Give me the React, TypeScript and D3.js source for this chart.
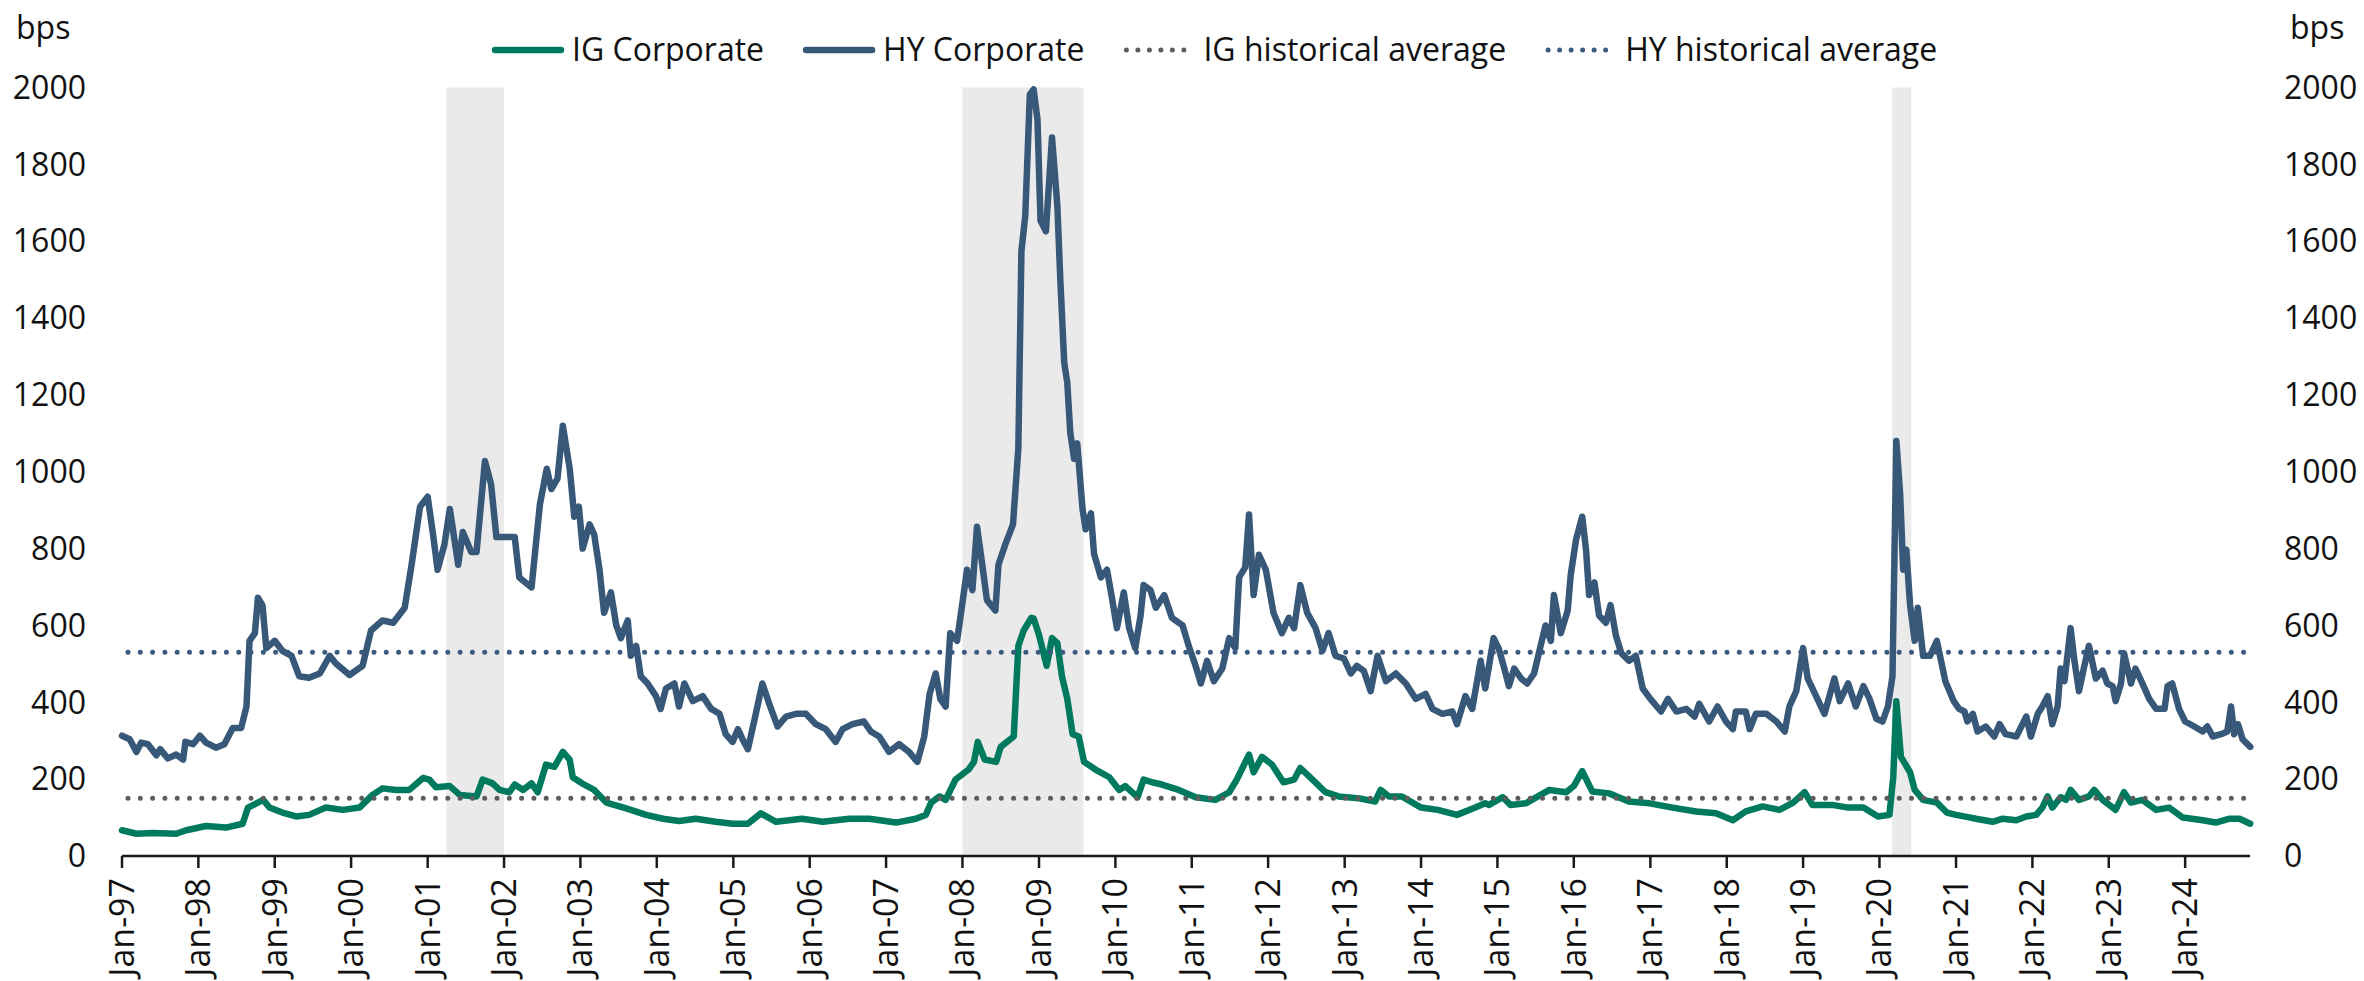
import * as d3 from "d3";
import { useEffect, useRef } from "react";

const WIDTH = 2364;
const HEIGHT = 981;

// [decimal year, spread in bps]
const igCorporate: [number, number][] = [
  [1997.0, 67], [1997.19, 58], [1997.4, 60], [1997.71, 58], [1997.84, 67],
  [1998.1, 78], [1998.36, 74], [1998.58, 84], [1998.65, 126], [1998.85, 146],
  [1998.93, 126], [1999.1, 113], [1999.28, 103], [1999.45, 107], [1999.67, 126],
  [1999.89, 120], [2000.11, 126], [2000.28, 159], [2000.41, 176], [2000.59, 172],
  [2000.76, 172], [2000.94, 203], [2001.02, 199], [2001.11, 179], [2001.29, 182],
  [2001.42, 159], [2001.64, 155], [2001.72, 199], [2001.85, 189], [2001.94, 172],
  [2002.07, 166], [2002.14, 186], [2002.25, 172], [2002.36, 189], [2002.44, 166],
  [2002.55, 238], [2002.66, 232], [2002.77, 271], [2002.86, 251], [2002.9, 205],
  [2003.03, 188], [2003.18, 172], [2003.34, 139], [2003.6, 124], [2003.86, 107],
  [2004.08, 97], [2004.29, 91], [2004.51, 97], [2004.77, 89], [2004.99, 84],
  [2005.19, 84], [2005.36, 111], [2005.56, 89], [2005.9, 97], [2006.17, 89],
  [2006.52, 97], [2006.78, 97], [2007.13, 87], [2007.39, 97], [2007.52, 107],
  [2007.59, 139], [2007.7, 155], [2007.78, 146], [2007.91, 199], [2008.08, 225],
  [2008.15, 245], [2008.2, 297], [2008.29, 251], [2008.44, 245], [2008.5, 284],
  [2008.67, 311], [2008.73, 547], [2008.8, 587], [2008.9, 620], [2008.93, 618],
  [2009.0, 575], [2009.1, 495], [2009.17, 567], [2009.24, 554], [2009.3, 468],
  [2009.37, 409], [2009.44, 317], [2009.52, 311], [2009.59, 245], [2009.74, 225],
  [2009.92, 205], [2010.05, 172], [2010.13, 182], [2010.29, 153], [2010.37, 199],
  [2010.48, 192], [2010.61, 186], [2010.83, 172], [2011.05, 153], [2011.31, 146],
  [2011.49, 166], [2011.59, 199], [2011.75, 264], [2011.81, 218], [2011.92, 258],
  [2012.05, 238], [2012.2, 192], [2012.34, 199], [2012.42, 229], [2012.58, 199],
  [2012.75, 166], [2012.92, 155], [2013.19, 150], [2013.4, 142], [2013.47, 172],
  [2013.58, 155], [2013.75, 155], [2014.0, 126], [2014.22, 120], [2014.47, 107],
  [2014.71, 126], [2014.84, 137], [2014.89, 133], [2015.07, 153], [2015.17, 133],
  [2015.37, 137], [2015.68, 172], [2015.9, 166], [2016.0, 182], [2016.11, 221],
  [2016.24, 168], [2016.46, 163], [2016.72, 142], [2016.99, 137], [2017.29, 126],
  [2017.6, 116], [2017.86, 111], [2018.08, 93], [2018.25, 116], [2018.47, 129],
  [2018.69, 120], [2018.87, 139], [2019.02, 166], [2019.12, 133], [2019.38, 133],
  [2019.59, 126], [2019.79, 126], [2019.98, 103], [2020.13, 107], [2020.18, 205],
  [2020.22, 403], [2020.28, 258], [2020.4, 218], [2020.46, 172], [2020.57, 146],
  [2020.75, 139], [2020.88, 113], [2021.0, 107], [2021.19, 100], [2021.26, 97],
  [2021.48, 89], [2021.61, 97], [2021.79, 93], [2021.92, 103], [2022.05, 107],
  [2022.13, 126], [2022.2, 155], [2022.26, 126], [2022.37, 153], [2022.44, 146],
  [2022.5, 172], [2022.61, 146], [2022.74, 155], [2022.81, 172], [2022.92, 146],
  [2023.09, 120], [2023.2, 166], [2023.29, 139], [2023.44, 146], [2023.62, 120],
  [2023.79, 126], [2023.97, 100], [2024.23, 93], [2024.4, 87], [2024.58, 97],
  [2024.71, 97], [2024.85, 84],
];

const hyCorporate: [number, number][] = [
  [1997.0, 313], [1997.1, 304], [1997.19, 271], [1997.25, 295], [1997.34, 291],
  [1997.45, 262], [1997.5, 278], [1997.6, 254], [1997.71, 264], [1997.8, 251],
  [1997.83, 297], [1997.93, 291], [1998.02, 313], [1998.1, 295], [1998.23, 282],
  [1998.34, 291], [1998.45, 333], [1998.56, 333], [1998.63, 389], [1998.67, 560],
  [1998.74, 580], [1998.78, 672], [1998.84, 652], [1998.89, 541], [1999.0, 560],
  [1999.1, 534], [1999.22, 521], [1999.32, 468], [1999.45, 464], [1999.59, 475],
  [1999.72, 521], [1999.8, 501], [1999.98, 471], [2000.15, 495], [2000.26, 587],
  [2000.41, 613], [2000.55, 607], [2000.7, 646], [2000.79, 758], [2000.9, 909],
  [2001.0, 935], [2001.07, 837], [2001.13, 745], [2001.22, 811], [2001.29, 903],
  [2001.4, 758], [2001.46, 843], [2001.57, 791], [2001.64, 791], [2001.75, 1028],
  [2001.83, 968], [2001.9, 830], [2002.03, 830], [2002.14, 830], [2002.2, 725],
  [2002.36, 699], [2002.47, 916], [2002.56, 1008], [2002.62, 955], [2002.7, 982],
  [2002.77, 1120], [2002.86, 1008], [2002.92, 883], [2002.98, 909], [2003.03, 800],
  [2003.12, 863], [2003.18, 837], [2003.25, 745], [2003.31, 633], [2003.4, 686],
  [2003.47, 600], [2003.53, 567], [2003.62, 613], [2003.66, 521], [2003.73, 547],
  [2003.79, 468], [2003.88, 449], [2003.99, 416], [2004.05, 383], [2004.12, 436],
  [2004.23, 449], [2004.29, 389], [2004.36, 449], [2004.47, 403], [2004.6, 416],
  [2004.71, 383], [2004.82, 370], [2004.9, 317], [2004.99, 297], [2005.06, 330],
  [2005.12, 304], [2005.19, 278], [2005.28, 357], [2005.38, 449], [2005.47, 396],
  [2005.58, 337], [2005.69, 363], [2005.82, 370], [2005.95, 370], [2006.08, 343],
  [2006.21, 330], [2006.34, 297], [2006.43, 330], [2006.56, 343], [2006.71, 350],
  [2006.8, 324], [2006.91, 311], [2007.04, 271], [2007.17, 291], [2007.3, 271],
  [2007.41, 245], [2007.5, 311], [2007.57, 422], [2007.65, 475], [2007.71, 409],
  [2007.78, 389], [2007.84, 580], [2007.93, 560], [2008.0, 659], [2008.06, 745],
  [2008.13, 692], [2008.19, 857], [2008.25, 771], [2008.32, 666], [2008.43, 639],
  [2008.47, 758], [2008.56, 811], [2008.66, 863], [2008.73, 1061], [2008.77, 1574],
  [2008.82, 1666], [2008.88, 1982], [2008.93, 1995], [2008.98, 1916], [2009.02, 1653],
  [2009.09, 1626], [2009.17, 1870], [2009.24, 1692], [2009.28, 1495], [2009.33, 1284],
  [2009.37, 1232], [2009.41, 1100], [2009.46, 1034], [2009.5, 1074], [2009.57, 903],
  [2009.61, 850], [2009.68, 892], [2009.72, 787], [2009.81, 725], [2009.89, 745],
  [2009.96, 666], [2010.02, 593], [2010.11, 686], [2010.18, 593], [2010.26, 541],
  [2010.33, 626], [2010.37, 705], [2010.46, 692], [2010.53, 646], [2010.64, 679],
  [2010.74, 620], [2010.88, 600], [2010.96, 547], [2011.05, 495], [2011.12, 449],
  [2011.2, 508], [2011.29, 455], [2011.4, 488], [2011.49, 567], [2011.57, 541],
  [2011.62, 725], [2011.7, 751], [2011.75, 889], [2011.81, 679], [2011.88, 784],
  [2011.97, 745], [2012.07, 633], [2012.18, 580], [2012.27, 620], [2012.34, 593],
  [2012.42, 705], [2012.51, 633], [2012.62, 593], [2012.71, 534], [2012.79, 580],
  [2012.88, 521], [2012.99, 514], [2013.08, 475], [2013.16, 495], [2013.25, 482],
  [2013.34, 429], [2013.43, 521], [2013.54, 455], [2013.67, 475], [2013.8, 449],
  [2013.93, 409], [2014.06, 422], [2014.15, 383], [2014.28, 370], [2014.41, 376],
  [2014.47, 343], [2014.58, 416], [2014.67, 383], [2014.78, 508], [2014.84, 436],
  [2014.95, 567], [2015.02, 538], [2015.09, 488], [2015.15, 442], [2015.22, 488],
  [2015.31, 462], [2015.39, 449], [2015.48, 475], [2015.55, 534], [2015.63, 600],
  [2015.7, 560], [2015.74, 679], [2015.83, 580], [2015.92, 639], [2015.96, 732],
  [2016.03, 824], [2016.11, 883], [2016.16, 797], [2016.2, 679], [2016.27, 712],
  [2016.33, 626], [2016.42, 607], [2016.48, 653], [2016.55, 574], [2016.62, 528],
  [2016.72, 508], [2016.81, 521], [2016.9, 436], [2017.0, 409], [2017.14, 376],
  [2017.23, 409], [2017.34, 376], [2017.47, 383], [2017.58, 363], [2017.64, 396],
  [2017.77, 350], [2017.88, 389], [2017.99, 350], [2018.08, 330], [2018.12, 376],
  [2018.25, 376], [2018.3, 330], [2018.38, 370], [2018.52, 370], [2018.65, 350],
  [2018.76, 324], [2018.82, 389], [2018.91, 429], [2019.0, 541], [2019.06, 462],
  [2019.17, 416], [2019.28, 370], [2019.41, 462], [2019.48, 403], [2019.59, 449],
  [2019.69, 389], [2019.79, 442], [2019.87, 409], [2019.96, 357], [2020.04, 350],
  [2020.11, 389], [2020.17, 468], [2020.22, 1080], [2020.27, 942], [2020.31, 745],
  [2020.35, 797], [2020.4, 653], [2020.46, 560], [2020.5, 646], [2020.57, 521],
  [2020.66, 521], [2020.75, 560], [2020.86, 455], [2020.97, 403], [2021.04, 383],
  [2021.11, 376], [2021.15, 350], [2021.22, 370], [2021.28, 324], [2021.39, 337],
  [2021.5, 311], [2021.57, 343], [2021.65, 317], [2021.79, 311], [2021.92, 363],
  [2021.98, 311], [2022.07, 370], [2022.13, 389], [2022.2, 416], [2022.26, 343],
  [2022.33, 389], [2022.37, 488], [2022.42, 455], [2022.5, 593], [2022.55, 508],
  [2022.61, 429], [2022.68, 495], [2022.74, 547], [2022.83, 462], [2022.92, 482],
  [2022.98, 449], [2023.05, 442], [2023.09, 403], [2023.16, 449], [2023.2, 528],
  [2023.29, 449], [2023.35, 488], [2023.44, 449], [2023.53, 409], [2023.62, 383],
  [2023.73, 383], [2023.77, 442], [2023.83, 449], [2023.92, 383], [2024.0, 350],
  [2024.12, 337], [2024.23, 324], [2024.29, 337], [2024.36, 311], [2024.47, 317],
  [2024.55, 324], [2024.6, 389], [2024.64, 317], [2024.69, 343], [2024.75, 304],
  [2024.85, 284],
];

const igHistoricalAverage = 150;
const hyHistoricalAverage = 530;

// shaded recession months [start, end)
const recessions: [string, string][] = [
  ["2001-04-01", "2002-01-01"],
  ["2008-01-01", "2009-08-01"],
  ["2020-03-01", "2020-06-01"],
];

const yTicks = [0, 200, 400, 600, 800, 1000, 1200, 1400, 1600, 1800, 2000];
const tickYears = d3.range(1997, 2025);
const legendLabels = ["IG Corporate", "HY Corporate", "IG historical average", "HY historical average"];

const IG_COLOR = "#007a5e";
const HY_COLOR = "#385879";
const IG_AVG_COLOR = "#5c5c5c";
const HY_AVG_COLOR = "#3b5a80";
const FONT = "'Segoe UI', 'Open Sans', 'Noto Sans', sans-serif";
const FONT_SIZE = 32;

const toDate = (t: number) => {
  const year = Math.floor(t);
  const start = Date.UTC(year, 0, 1);
  const end = Date.UTC(year + 1, 0, 1);
  return new Date(start + (t - year) * (end - start));
};

const App = () => {
  const svgRef = useRef<SVGSVGElement>(null);

  useEffect(() => {
    document.body.style.margin = "0";
    const svg = d3.select(svgRef.current);
    svg.selectAll("*").remove();

    const x = d3
      .scaleUtc()
      .domain([new Date(Date.UTC(1997, 0, 1)), new Date(Date.UTC(2024, 10, 6))])
      .range([122, 2250]);
    const y = d3.scaleLinear().domain([0, 2000]).range([856, 87.5]);

    // recession shading
    svg
      .append("g")
      .selectAll("rect")
      .data(recessions)
      .join("rect")
      .attr("x", (d) => x(new Date(d[0])))
      .attr("width", (d) => x(new Date(d[1])) - x(new Date(d[0])))
      .attr("y", y(2000))
      .attr("height", y(0) - y(2000))
      .attr("fill", "#eaeaea");

    const line = d3
      .line<[number, number]>()
      .x((d) => x(toDate(d[0])))
      .y((d) => y(d[1]));

    const series = [
      { data: igCorporate, color: IG_COLOR },
      { data: hyCorporate, color: HY_COLOR },
    ];
    svg
      .append("g")
      .selectAll("path")
      .data(series)
      .join("path")
      .attr("d", (d) => line(d.data))
      .attr("fill", "none")
      .attr("stroke", (d) => d.color)
      .attr("stroke-width", 6.5)
      .attr("stroke-linejoin", "round")
      .attr("stroke-linecap", "round");

    // historical averages
    const averages = [
      { value: igHistoricalAverage, color: IG_AVG_COLOR },
      { value: hyHistoricalAverage, color: HY_AVG_COLOR },
    ];
    svg
      .append("g")
      .selectAll("line")
      .data(averages)
      .join("line")
      .attr("x1", x.range()[0] + 6)
      .attr("x2", x.range()[1])
      .attr("y1", (d) => y(d.value))
      .attr("y2", (d) => y(d.value))
      .attr("stroke", (d) => d.color)
      .attr("stroke-width", 5)
      .attr("stroke-linecap", "round")
      .attr("stroke-dasharray", "0 12.3");

    // x axis
    const xAxis = svg.append("g").attr("transform", `translate(0,${y(0)})`);
    xAxis
      .append("line")
      .attr("x1", x.range()[0])
      .attr("x2", x.range()[1])
      .attr("stroke", "#1a1a1a")
      .attr("stroke-width", 2.5);
    const ticks = xAxis
      .selectAll("g.tick")
      .data(tickYears.map((yr) => new Date(Date.UTC(yr, 0, 1))))
      .join("g")
      .attr("class", "tick")
      .attr("transform", (d) => `translate(${x(d)},0)`);
    ticks.append("line").attr("y2", 12).attr("stroke", "#1a1a1a").attr("stroke-width", 2.5);
    ticks
      .append("text")
      .attr("transform", "translate(0,22) rotate(-90)")
      .attr("text-anchor", "end")
      .attr("dy", "0.35em")
      .attr("font-family", FONT)
      .attr("font-size", 34)
      .attr("fill", "#111")
      .text((d) => d3.utcFormat("%b-%y")(d));

    // y labels on both sides
    const yLabels = svg.append("g").attr("font-family", FONT).attr("font-size", FONT_SIZE).attr("fill", "#111");
    yLabels
      .selectAll("text.left")
      .data(yTicks)
      .join("text")
      .attr("class", "left")
      .attr("x", 86)
      .attr("y", (d) => y(d))
      .attr("dy", "0.35em")
      .attr("text-anchor", "end")
      .text((d) => d);
    yLabels
      .selectAll("text.right")
      .data(yTicks)
      .join("text")
      .attr("class", "right")
      .attr("x", 2284)
      .attr("y", (d) => y(d))
      .attr("dy", "0.35em")
      .attr("text-anchor", "start")
      .text((d) => d);
    yLabels.append("text").attr("x", 16).attr("y", 28).attr("dy", "0.35em").text("bps");
    yLabels.append("text").attr("x", 2290).attr("y", 28).attr("dy", "0.35em").text("bps");

    // legend
    const legendStyles = [
      { color: IG_COLOR, dotted: false },
      { color: HY_COLOR, dotted: false },
      { color: IG_AVG_COLOR, dotted: true },
      { color: HY_AVG_COLOR, dotted: true },
    ];
    const legend = svg.append("g").attr("transform", "translate(0,50)");
    let cursor = 495;
    legendLabels.forEach((label, i) => {
      const st = legendStyles[i];
      legend
        .append("line")
        .attr("x1", cursor)
        .attr("x2", cursor + 66)
        .attr("stroke", st.color)
        .attr("stroke-width", st.dotted ? 5 : 6.5)
        .attr("stroke-linecap", "round")
        .attr("stroke-dasharray", st.dotted ? "0 11.5" : null);
      const t = legend
        .append("text")
        .attr("x", cursor + 77)
        .attr("dy", "0.35em")
        .attr("font-family", FONT)
        .attr("font-size", FONT_SIZE)
        .attr("fill", "#111")
        .text(label);
      const w = (t.node() as SVGTextElement).getComputedTextLength();
      cursor += 77 + w + 42;
    });
  }, []);

  return <svg ref={svgRef} width={WIDTH} height={HEIGHT} style={{ display: "block", background: "#fff" }} />;
};

export default App;
